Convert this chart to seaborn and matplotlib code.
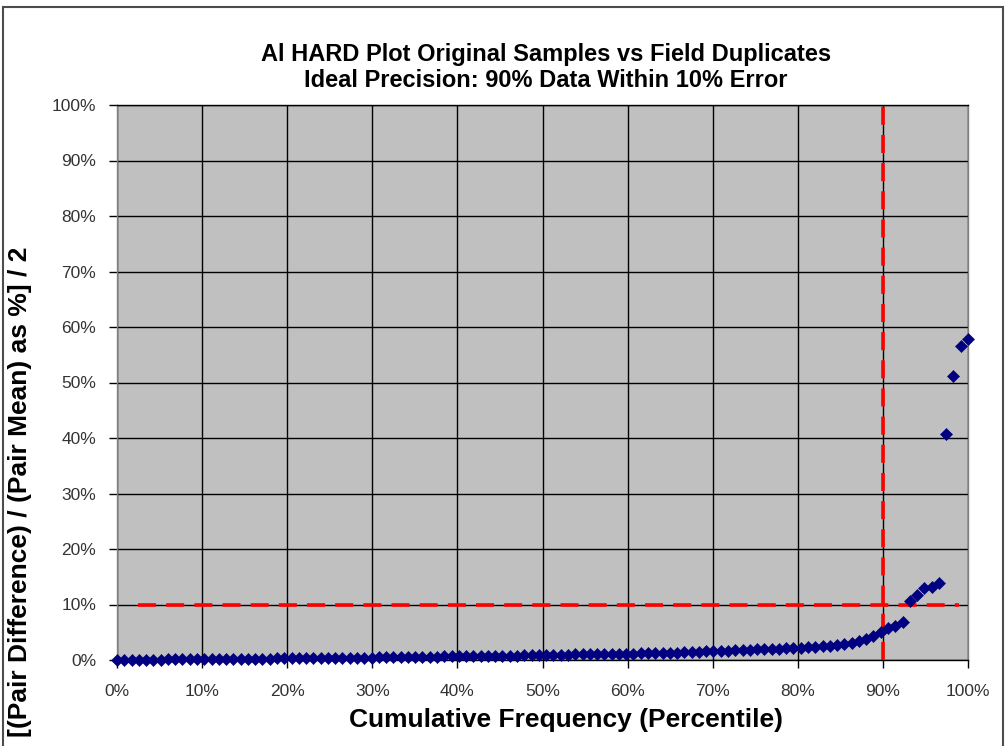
import matplotlib
matplotlib.use("Agg")
import matplotlib.pyplot as plt
import seaborn as sns
import pandas as pd
from matplotlib.patches import Rectangle
from matplotlib.ticker import FuncFormatter

# ---- data ----
title_lines = ["Al HARD Plot Original Samples vs Field Duplicates",
               "Ideal Precision: 90% Data Within 10% Error"]
x_label = "Cumulative Frequency (Percentile)"
y_label = "[(Pair Difference) / (Pair Mean) as %] / 2"

# half relative difference (%) of each pair, sorted ascending
rel_diff = [
    0.0, 0.0, 0.0, 0.0, 0.05, 0.05, 0.05, 0.1, 0.1, 0.1, 0.1, 0.1,
    0.15, 0.15, 0.15, 0.2, 0.2, 0.2, 0.2, 0.25, 0.25, 0.25, 0.3, 0.3,
    0.3, 0.3, 0.35, 0.35, 0.35, 0.4, 0.4, 0.4, 0.4, 0.45, 0.45, 0.45,
    0.5, 0.5, 0.5, 0.55, 0.55, 0.55, 0.6, 0.6, 0.6, 0.65, 0.65, 0.65,
    0.7, 0.7, 0.7, 0.75, 0.75, 0.8, 0.8, 0.8, 0.85, 0.85, 0.9,
    0.9, 0.9, 0.95, 0.95, 1.0, 1.0, 1.0, 1.05, 1.05, 1.1, 1.1, 1.15,
    1.15, 1.2, 1.2, 1.25, 1.25, 1.3, 1.35, 1.4, 1.45, 1.5, 1.55, 1.6,
    1.65, 1.7, 1.75, 1.8, 1.85, 1.9, 1.95, 2.0, 2.05, 2.1, 2.15, 2.2,
    2.3, 2.4, 2.5, 2.6, 2.7,
    2.8, 3.0, 3.4, 3.8, 4.3, 5.0, 5.7, 6.2, 6.8,
    10.6, 11.8, 12.9, 13.2, 13.9, 40.7, 51.2, 56.5, 57.8,
]
# cumulative frequency (percentile) of each sorted pair
n_pairs = len(rel_diff)
cum_freq = [100.0 * i / (n_pairs - 1) for i in range(n_pairs)]

# ideal precision guide lines
ideal_percentile = 90
ideal_error = 10
h_guide_x = [2.5, 99.0]
v_guide_y = [0, 100]

x_ticks = list(range(0, 101, 10))
y_ticks = list(range(0, 101, 10))

df = pd.DataFrame({"cum_freq": cum_freq, "rel_diff": rel_diff})

# ---- figure ----
sns.set_theme(style="white")
plt.rcParams["font.family"] = ["Liberation Sans", "DejaVu Sans"]

W, H = 1006, 746
fig = plt.figure(figsize=(W / 100, H / 100), dpi=100)
fig.patch.set_facecolor("white")
ax = fig.add_axes([117 / W, 1 - 660 / H, (968 - 117) / W, (660 - 105) / H])
ax.set_facecolor("#C0C0C0")

ax.set_xlim(0, 100)
ax.set_ylim(0, 100)
ax.set_xticks(x_ticks)
ax.set_yticks(y_ticks)
ax.grid(True, color="black", linewidth=1.0, zorder=0)
ax.set_axisbelow(True)

# guide lines
ax.plot(h_guide_x, [ideal_error, ideal_error], color="#FF0000", lw=2.6,
        dashes=(5, 2.8), zorder=3, dash_capstyle="butt")
ax.plot([ideal_percentile, ideal_percentile], v_guide_y, color="#FF0000", lw=2.6,
        dashes=(5, 2.8), zorder=3, dash_capstyle="butt")

sns.scatterplot(data=df, x="cum_freq", y="rel_diff", marker="D", s=38,
                color="#000080", edgecolor="#000080", linewidth=0.4,
                ax=ax, zorder=4, clip_on=False, legend=False)

pct = FuncFormatter(lambda v, p: f"{int(v)}%")
ax.xaxis.set_major_formatter(pct)
ax.yaxis.set_major_formatter(pct)
ax.tick_params(axis="both", which="major", direction="out", length=6, width=1,
               color="black", labelsize=12.5, labelcolor="#333333",
               bottom=True, left=True)
ax.tick_params(axis="x", pad=11)
ax.tick_params(axis="y", pad=9)

for side in ["left", "right"]:
    ax.spines[side].set_color("#808080")
    ax.spines[side].set_linewidth(1.0)
for side in ["top", "bottom"]:
    ax.spines[side].set_color("black")
    ax.spines[side].set_linewidth(1.0)

ax.set_xlabel("")
ax.set_ylabel("")

fig.text(546 / W, 1 - 61 / H, title_lines[0], ha="center", va="baseline",
         fontsize=17, fontweight="bold", color="black")
fig.text(546 / W, 1 - 87 / H, title_lines[1], ha="center", va="baseline",
         fontsize=17, fontweight="bold", color="black")
fig.text(566 / W, 1 - 727 / H, x_label, ha="center", va="baseline",
         fontsize=19, fontweight="bold", color="black")
fig.text(20 / W, 1 - 492 / H, y_label, ha="center", va="center", rotation=90,
         fontsize=19, fontweight="bold", color="black")

# chart border
fig.patches.append(Rectangle((3 / W, -0.01), 1000 / W, 1 - 7 / H + 0.01,
                             transform=fig.transFigure, fill=False,
                             edgecolor="#4d4d4d", linewidth=1.5))

fig.savefig("out.png", dpi=100, facecolor="white")
